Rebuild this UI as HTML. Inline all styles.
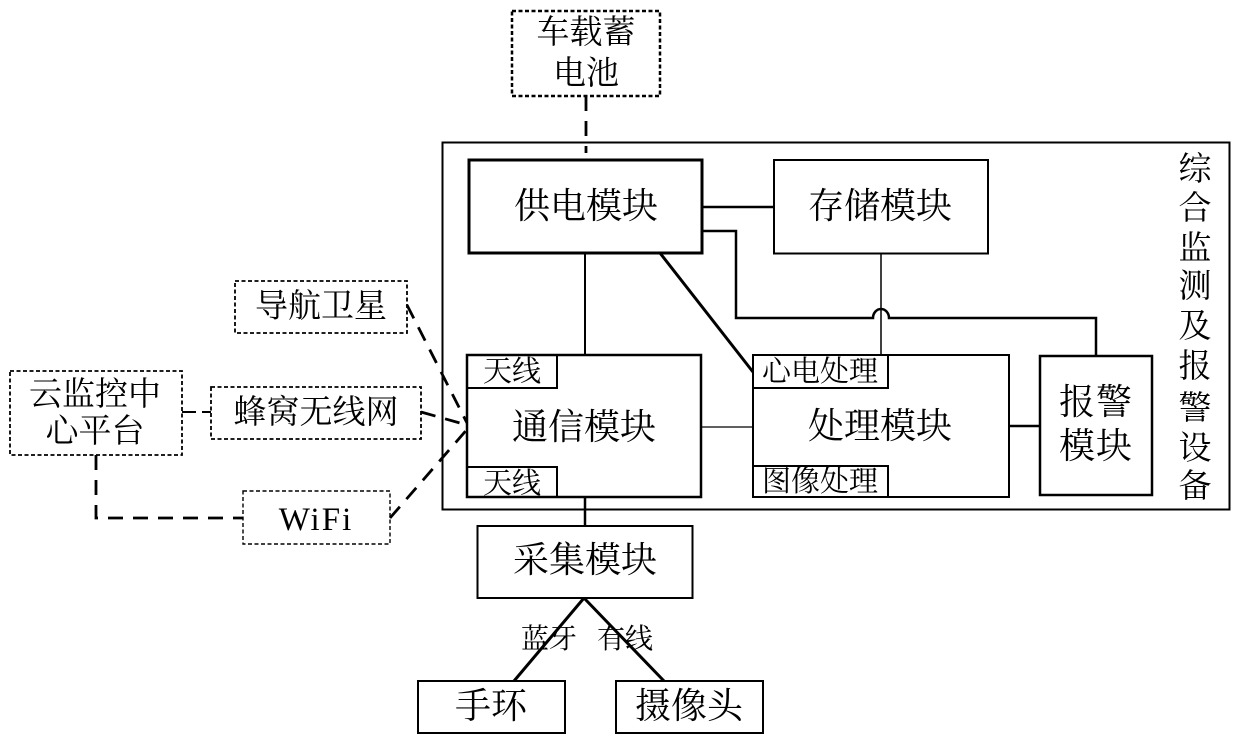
<!DOCTYPE html>
<html><head><meta charset="utf-8"><style>
html,body{margin:0;padding:0;background:#fff}
svg{display:block}
text{font-family:"Liberation Serif","Noto Serif CJK SC",serif;fill:#000;text-anchor:middle;font-weight:400}
.m{font-size:36px}.s{font-size:33px}.t{font-size:29px}.l{font-size:28px}
</style></head><body>
<svg width="1240" height="748" viewBox="0 0 1240 748" xmlns="http://www.w3.org/2000/svg">
<rect width="1240" height="748" fill="#fff"/>
<g fill="none" stroke="#000">
<rect x="442.5" y="142.5" width="787" height="367" stroke-width="2"/>
<rect x="469" y="160" width="233" height="93" stroke-width="3"/>
<rect x="774" y="160" width="214" height="93.5" stroke-width="2"/>
<rect x="467" y="355" width="234" height="142" stroke-width="2.5"/>
<rect x="467" y="355" width="90" height="33" stroke-width="2"/>
<rect x="467" y="467" width="90" height="30" stroke-width="2"/>
<rect x="753" y="355" width="256" height="142" stroke-width="2"/>
<rect x="753" y="355" width="135" height="33" stroke-width="2"/>
<rect x="753" y="466" width="135" height="31" stroke-width="2"/>
<rect x="1040" y="356" width="112" height="139" stroke-width="2.5"/>
<rect x="477.5" y="526" width="215" height="72" stroke-width="2"/>
<rect x="418" y="681" width="147" height="52" stroke-width="2"/>
<rect x="616" y="681" width="147" height="52" stroke-width="2"/>
<g stroke-dasharray="4 2.5">
<rect x="512" y="11" width="148" height="85" stroke-width="2.5"/>
<rect x="235" y="281" width="172" height="52" stroke-width="1.8"/>
<rect x="10" y="371" width="172" height="84" stroke-width="1.8"/>
<rect x="211" y="387" width="210" height="52" stroke-width="1.8"/>
<rect x="243" y="491" width="147" height="53" stroke-width="1.4"/>
</g>
<g stroke-dasharray="15 10" stroke-width="2.8">
<path d="M586 96V153"/>
<path d="M407 305L467 423"/>
<path d="M421 412L467 425"/>
<path d="M390 518L470 426"/>
<path d="M96 455V518H243"/>
</g>
<path d="M182 412H211" stroke-dasharray="14 6" stroke-width="2"/>
<path d="M702 207H774" stroke-width="2.5"/>
<path d="M702 231H736V318H873a8 9 0 0 1 16 0H1096V356" stroke-width="2.5"/>
<path d="M585 253V354" stroke-width="2"/>
<path d="M660 253L753 372" stroke-width="3"/>
<path d="M881 253V355" stroke-width="1.5"/>
<path d="M701 427H753" stroke-width="1.2"/>
<path d="M1009 426H1040" stroke-width="2.5"/>
<path d="M585 497V526" stroke-width="2.5"/>
<path d="M584 598L514 681M584 598L664 681" stroke-width="3"/>
</g>
<text class="s" x="586" y="43">车载蓄</text>
<text class="s" x="586" y="84">电池</text>
<text class="m" x="586" y="218">供电模块</text>
<text class="m" x="880" y="218">存储模块</text>
<text class="m" x="584" y="439">通信模块</text>
<text class="m" x="880" y="438">处理模块</text>
<text class="m" x="1096" y="414" style="letter-spacing:1px">报警</text>
<text class="m" x="1096" y="458" style="letter-spacing:1px">模块</text>
<text class="m" x="585" y="572">采集模块</text>
<text class="s" x="321" y="317">导航卫星</text>
<text class="s" x="95" y="405">云监控中</text>
<text class="s" x="95" y="442">心平台</text>
<text class="s" x="316" y="423">蜂窝无线网</text>
<text class="s" x="316" y="530" style="letter-spacing:2px">WiFi</text>
<text class="t" x="512" y="381">天线</text>
<text class="t" x="512" y="493">天线</text>
<text class="t" x="820" y="381">心电处理</text>
<text class="t" x="820" y="491">图像处理</text>
<text class="l" x="549" y="648">蓝牙</text>
<text class="l" x="625" y="648">有线</text>
<text class="m" x="491" y="718">手环</text>
<text class="m" x="689" y="718">摄像头</text>
<g>
<text class="s" x="1195" y="180">综</text>
<text class="s" x="1195" y="219">合</text>
<text class="s" x="1195" y="259">监</text>
<text class="s" x="1195" y="297">测</text>
<text class="s" x="1195" y="337">及</text>
<text class="s" x="1195" y="377">报</text>
<text class="s" x="1195" y="419">警</text>
<text class="s" x="1195" y="459">设</text>
<text class="s" x="1195" y="497">备</text>
</g>
</svg>
</body></html>
